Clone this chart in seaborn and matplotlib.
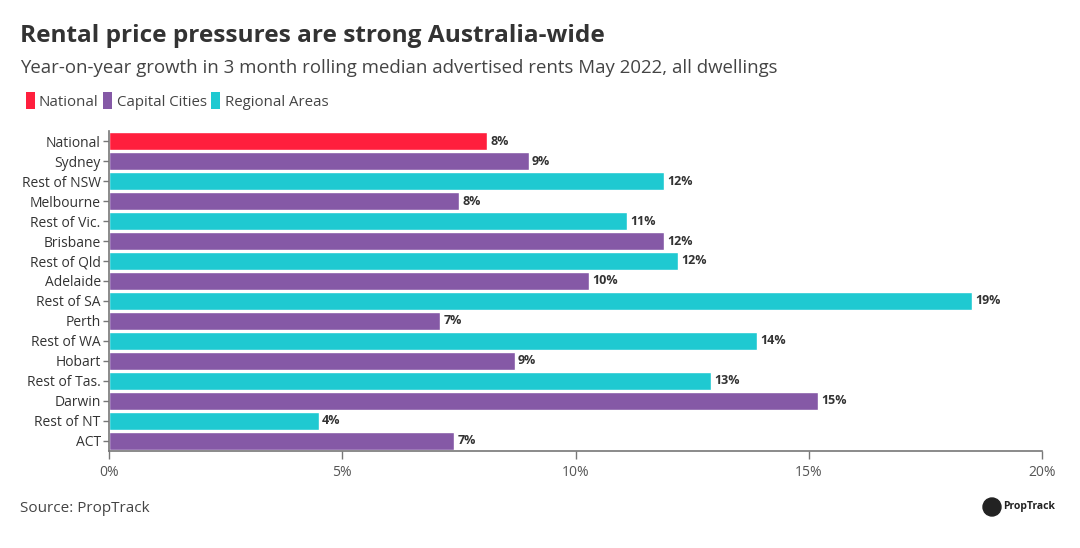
import matplotlib
matplotlib.use("Agg")
import matplotlib.pyplot as plt
from matplotlib.patches import Patch, Ellipse
import seaborn as sns
import pandas as pd

# data
regions = ["National", "Sydney", "Rest of NSW", "Melbourne", "Rest of Vic.", "Brisbane",
           "Rest of Qld", "Adelaide", "Rest of SA", "Perth", "Rest of WA", "Hobart",
           "Rest of Tas.", "Darwin", "Rest of NT", "ACT"]
growth = [8.1, 9.0, 11.9, 7.5, 11.1, 11.9, 12.2, 10.3, 18.5, 7.1, 13.9, 8.7, 12.9, 15.2, 4.5, 7.4]
groups = ["National", "Capital Cities", "Regional Areas", "Capital Cities", "Regional Areas",
          "Capital Cities", "Regional Areas", "Capital Cities", "Regional Areas", "Capital Cities",
          "Regional Areas", "Capital Cities", "Regional Areas", "Capital Cities", "Regional Areas",
          "Capital Cities"]
labels = ["8%", "9%", "12%", "8%", "11%", "12%", "12%", "10%", "19%", "7%", "14%", "9%",
          "13%", "15%", "4%", "7%"]
group_names = ["National", "Capital Cities", "Regional Areas"]
colors = {"National": "#FF1F3D", "Capital Cities": "#8559A6", "Regional Areas": "#1FC9D1"}

df = pd.DataFrame({"region": regions, "growth": growth, "group": groups})

sns.set_style("white")
plt.rcParams["font.family"] = ["Open Sans", "DejaVu Sans"]

fig = plt.figure(figsize=(10.8, 5.48), dpi=100)
ax = fig.add_axes([109 / 1080, 1 - 451 / 548, (1042 - 109) / 1080, 320 / 548])

sns.barplot(data=df, x="growth", y="region", hue="group", hue_order=group_names,
            palette=colors, dodge=False, width=0.88, saturation=1, legend=False, ax=ax)

for i, (v, lab) in enumerate(zip(growth, labels)):
    ax.text(v + 0.07, i, lab, va="center", ha="left", fontsize=9, fontweight="bold", color="#333333")

ax.set_xlim(0, 20)
ax.set_ylim(15.5, -0.5)
ax.set_xticks([0, 5, 10, 15, 20])
ax.set_xticklabels(["0%", "5%", "10%", "15%", "20%"])
ax.set_xlabel("")
ax.set_ylabel("")
for s in ["top", "right"]:
    ax.spines[s].set_visible(False)
for s in ["left", "bottom"]:
    ax.spines[s].set_color("#777777")
    ax.spines[s].set_linewidth(1.2)
ax.tick_params(axis="y", left=True, length=4, width=1, color="#777777", labelsize=10,
               labelcolor="#333333", pad=2)
ax.tick_params(axis="x", bottom=True, length=6, width=1, color="#777777", labelsize=10,
               labelcolor="#555555", pad=4)

fig.text(20 / 1080, 1 - 36 / 548, "Rental price pressures are strong Australia-wide",
         fontsize=17.6, fontweight="bold", color="#333333", va="center")
fig.text(20 / 1080, 1 - 68 / 548,
         "Year-on-year growth in 3 month rolling median advertised rents May 2022, all dwellings",
         fontsize=13.4, color="#444444", va="center")

handles = [Patch(facecolor=colors[g], edgecolor="none") for g in group_names]
fig.legend(handles, group_names, loc="center left", bbox_to_anchor=(12 / 1080, 1 - 101 / 548),
           ncol=3, frameon=False, fontsize=10.8, handlelength=0.6, handleheight=1.3,
           handletextpad=0.3, columnspacing=0.3, labelcolor="#444444")

fig.text(20 / 1080, 1 - 509 / 548, "Source: PropTrack", fontsize=11, color="#444444", va="center")
fig.text(1003 / 1080, 1 - 507 / 548, "PropTrack", fontsize=7.5, fontweight="bold",
         color="#222222", va="center", ha="left")
fig.patches.append(Ellipse((992 / 1080, 1 - 507 / 548), 18 / 1080, 18 / 548,
                           transform=fig.transFigure, color="#222222", figure=fig))

fig.savefig("out.png", dpi=100, facecolor="white")
